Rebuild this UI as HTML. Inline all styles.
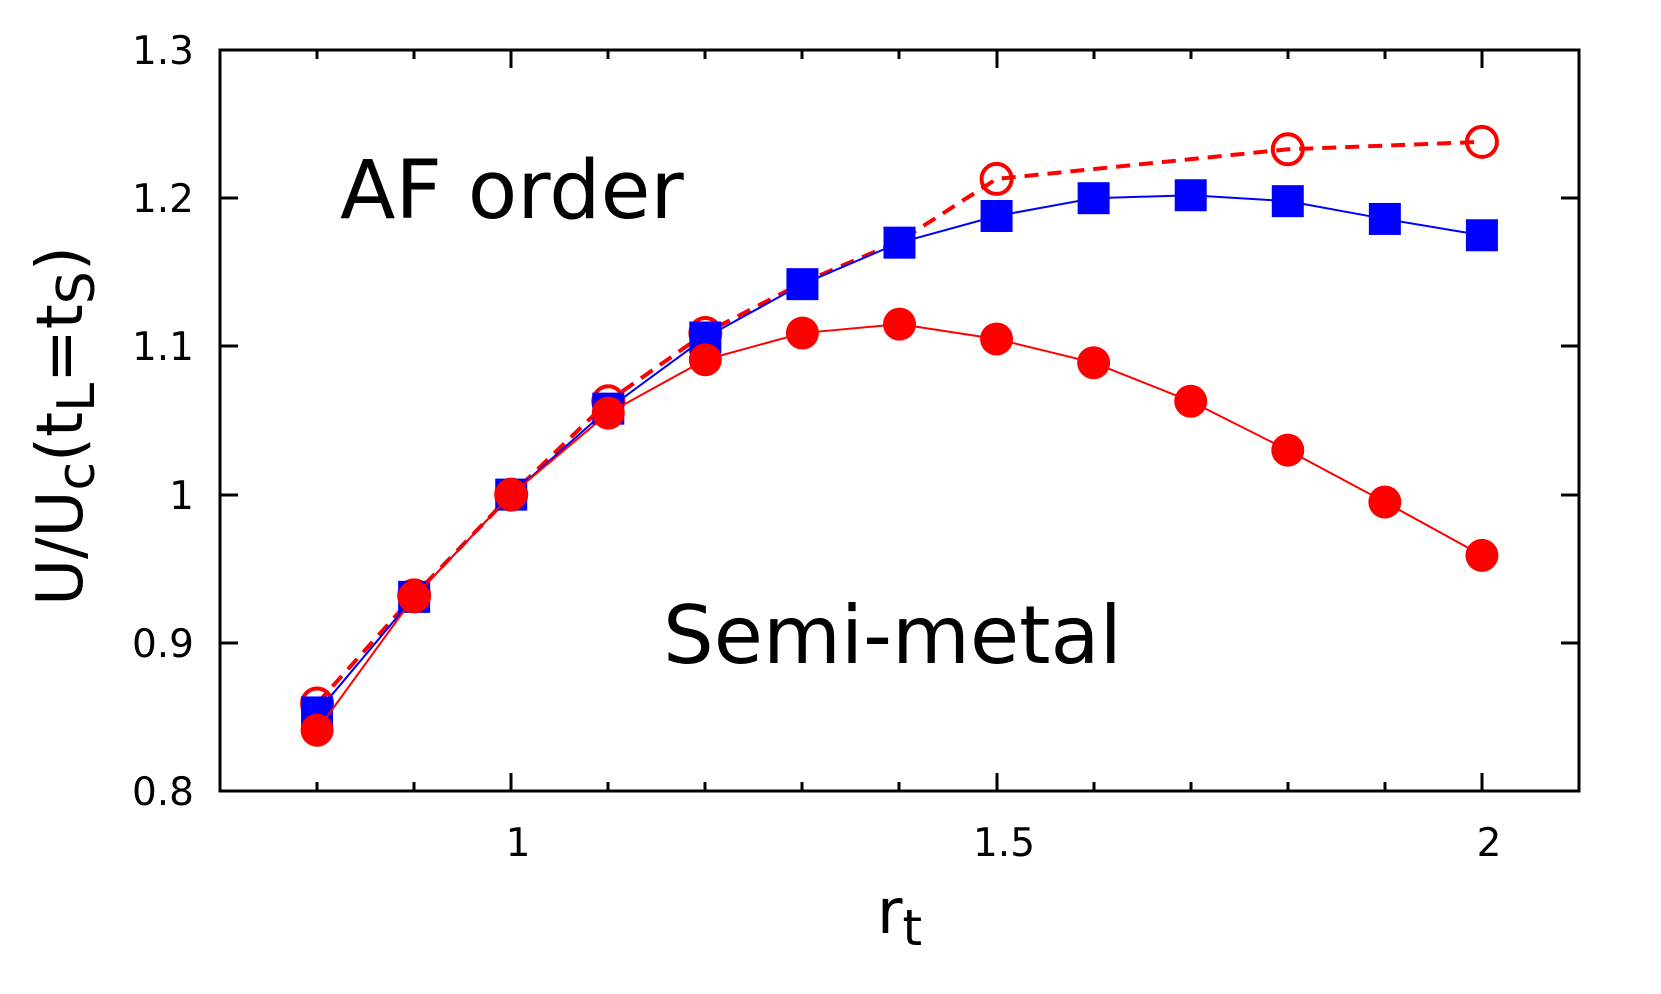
<!DOCTYPE html>
<html><head><meta charset="utf-8"><style>body{margin:0;background:#fff}svg{display:block}</style></head>
<body>
<svg width="1661" height="994" viewBox="0 0 1661 994" xmlns="http://www.w3.org/2000/svg" font-family="'DejaVu Sans','Liberation Sans',sans-serif">
<rect x="220" y="50" width="1359" height="741" fill="none" stroke="#000" stroke-width="3"/>
<g stroke="#000" stroke-width="3">
<path d="M220 198h18M1579 198h-18M220 346h18M1579 346h-18M220 495h18M1579 495h-18M220 643h18M1579 643h-18"/>
<path d="M317 791v-9M414 791v-9M511 791v-18M608 791v-9M705 791v-9M802 791v-9M899 791v-9M997 791v-18M1094 791v-9M1191 791v-9M1288 791v-9M1385 791v-9M1482 791v-18"/>
<path d="M317 50v9M414 50v9M511 50v18M608 50v9M705 50v9M802 50v9M899 50v9M997 50v18M1094 50v9M1191 50v9M1288 50v9M1385 50v9M1482 50v18"/>
</g>
<g font-size="39" text-anchor="end" fill="#000">
<text x="194" y="64">1.3</text><text x="194" y="212">1.2</text><text x="194" y="360">1.1</text><text x="194" y="509">1</text><text x="194" y="657">0.9</text><text x="194" y="805">0.8</text>
</g>
<g font-size="39" text-anchor="middle" fill="#000">
<text x="518" y="856">1</text><text x="1004" y="856">1.5</text><text x="1489" y="856">2</text>
</g>
<text x="877" y="933" font-size="62">r<tspan font-size="50" dy="12">t</tspan></text>
<text transform="translate(82,426) rotate(-90)" text-anchor="middle" font-size="64">U/U<tspan font-size="52" dy="12">c</tspan><tspan dy="-12">(t</tspan><tspan font-size="52" dy="12">L</tspan><tspan dy="-12">=t</tspan><tspan font-size="52" dy="12">S</tspan><tspan dy="-12">)</tspan></text>
<text x="340" y="218" font-size="81">AF order</text>
<text x="663" y="663" font-size="80">Semi-metal</text>
<g id="plot"></g>
<script>
const X=v=>220+(v-0.7)*1359/1.4, Y=v=>50+(1.3-v)*1482;
const xs=[0.8,0.9,1,1.1,1.2,1.3,1.4,1.5,1.6,1.7,1.8,1.9,2.0];
const blue=[0.853,0.931,1.0,1.058,1.106,1.142,1.170,1.188,1.2,1.202,1.198,1.186,1.175];
const red=[0.841,0.931,1.0,1.055,1.091,1.109,1.115,1.105,1.089,1.063,1.030,0.995,0.959];
const ox=[0.8,0.9,1,1.1,1.2,1.3,1.4,1.5,1.8,2.0];
const oy=[0.859,0.932,1.0,1.063,1.109,1.143,1.171,1.213,1.233,1.238];
const ns="http://www.w3.org/2000/svg";const g=document.getElementById('plot');
function el(t,a){const e=document.createElementNS(ns,t);for(const k in a)e.setAttribute(k,a[k]);g.appendChild(e);return e;}
const pts=(xa,ya)=>xa.map((x,i)=>X(x)+','+Y(ya[i])).join(' ');
el('polyline',{points:pts(ox,oy),fill:'none',stroke:'#f00','stroke-width':4,'stroke-dasharray':'14,9'});
ox.forEach((x,i)=>{if(x!==1.3&&x!==1.4)el('circle',{cx:X(x),cy:Y(oy[i]),r:15,fill:'none',stroke:'#f00','stroke-width':4});});
el('polyline',{points:pts(xs,blue),fill:'none',stroke:'#00f','stroke-width':2});
xs.forEach((x,i)=>el('rect',{x:X(x)-16,y:Y(blue[i])-16,width:32,height:32,fill:'#00f'}));
el('polyline',{points:pts(xs,red),fill:'none',stroke:'#f00','stroke-width':2});
xs.forEach((x,i)=>el('circle',{cx:X(x),cy:Y(red[i]),r:16.5,fill:'#f00'}));
</script>
</svg>
</body></html>
